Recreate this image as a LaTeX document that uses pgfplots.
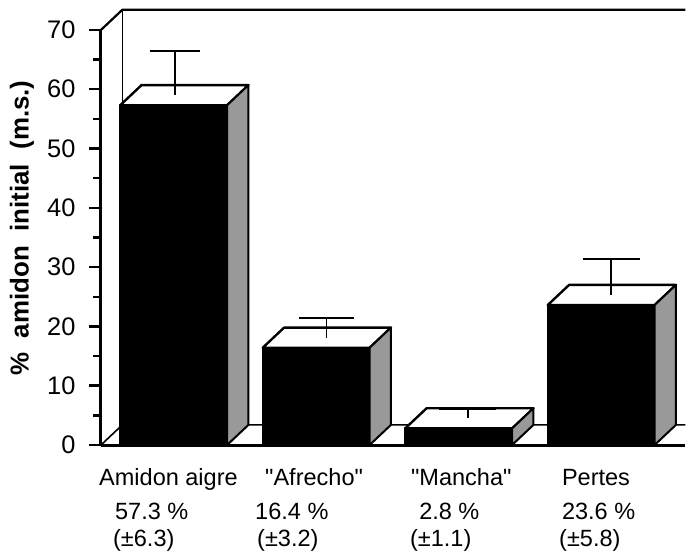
\documentclass[border=0pt]{standalone}
\usepackage{fontspec}
\setmainfont{Liberation Sans}[Ligatures=TeXOff]
\usepackage{pgfplots}
\pgfplotsset{compat=1.18}
\definecolor{sidegray}{gray}{0.6}
\newcommand\lbl{\fontsize{23.6}{27}\selectfont}
% 3D bar: #1 = category position, #2 = value
\newcommand\tdbar[2]{%
  \pgfmathsetmacro\L{#1-0.365}\pgfmathsetmacro\R{#1+0.385}%
  \pgfmathsetmacro\RR{#1+0.535}\pgfmathsetmacro\LL{#1-0.215}%
  \pgfmathsetmacro\T{#2+3.4}%
  \edef\tmp{%
    \noexpand\addplot[fill=black,draw=black,line width=2bp,line join=round] coordinates {(\L,0) (\R,0) (\R,#2) (\L,#2)} --cycle;
    \noexpand\addplot[fill=white,draw=black,line width=2.4bp,line join=round] coordinates {(\L,#2) (\R,#2) (\RR,\T) (\LL,\T)} --cycle;
    \noexpand\addplot[fill=sidegray,draw=black,line width=2bp,line join=round] coordinates {(\R,0) (\RR,3.4) (\RR,\T) (\R,#2)} --cycle;
  }\tmp}
\begin{document}
\begin{tikzpicture}
\begin{axis}[
  scale only axis, width=584.25bp, height=415.1bp,
  xmin=-0.5, xmax=3.6, ymin=0, ymax=70,
  axis x line*=bottom, axis y line*=left,
  axis line style={line width=3bp},
  clip=false,
  xtick=\empty,
  minor xtick={-0.5,0.5,1.5,2.5,3.5},
  ytick={0,10,...,70}, minor ytick={5,15,...,65},
  tick align=outside,
  major tick length=12bp, minor tick length=7.5bp,
  every tick/.style={line width=2.5bp, black},
  yticklabel style={font=\fontsize{25.5}{28}\selectfont, xshift=-10bp},
  /pgf/number format/assume math mode=true,
]
\coordinate (O) at (axis cs:-0.5,0);
% back wall and floor
\addplot[line width=1.6bp, black] coordinates {(-0.5,0) (-0.35,3.4) (3.6,3.4)};
\addplot[line width=1.6bp, black] coordinates {(-0.35,3.4) (-0.35,73.4)};
\addplot[line width=2.2bp, black] coordinates {(-0.5,70) (-0.35,73.4) (3.6,73.4)};
% bars
\tdbar{0}{57.3}
\tdbar{1}{16.4}
\tdbar{2}{2.8}
\tdbar{3}{23.6}
% error bars
\addplot[line width=1.8bp, black] coordinates {(0.019,59.0) (0.019,66.4)};
\addplot[line width=2.2bp, black] coordinates {(-0.156,66.4) (0.194,66.4)};
\addplot[line width=1.8bp, black] coordinates {(1.082,18.1) (1.082,21.4)};
\addplot[line width=2.2bp, black] coordinates {(0.892,21.4) (1.272,21.4)};
\addplot[line width=1.8bp, black] coordinates {(2.075,4.5) (2.075,6.1)};
\addplot[line width=2.2bp, black] coordinates {(1.875,6.1) (2.275,6.1)};
\addplot[line width=1.8bp, black] coordinates {(3.079,25.3) (3.079,31.4)};
\addplot[line width=2.2bp, black] coordinates {(2.879,31.4) (3.279,31.4)};
% labels
\node[anchor=base west, inner sep=0, font=\lbl] at (axis cs:-0.514,-6.91) {Amidon aigre};
\node[anchor=base west, inner sep=0, font=\lbl] at (axis cs:0.651,-6.91) {"Afrecho"};
\node[anchor=base west, inner sep=0, font=\lbl] at (axis cs:1.675,-6.91) {"Mancha"};
\node[anchor=base west, inner sep=0, font=\lbl] at (axis cs:2.734,-6.91) {Pertes};
\node[anchor=base west, inner sep=0, font=\lbl] at (axis cs:-0.402,-12.53) {57.3 \%};
\node[anchor=base west, inner sep=0, font=\lbl] at (axis cs:0.581,-12.53) {16.4 \%};
\node[anchor=base west, inner sep=0, font=\lbl] at (axis cs:1.732,-12.53) {2.8 \%};
\node[anchor=base west, inner sep=0, font=\lbl] at (axis cs:2.734,-12.53) {23.6 \%};
\node[anchor=base west, inner sep=0, font=\lbl] at (axis cs:-0.416,-17.15) {(±6.3)};
\node[anchor=base west, inner sep=0, font=\lbl] at (axis cs:0.595,-17.15) {(±3.2)};
\node[anchor=base west, inner sep=0, font=\lbl] at (axis cs:1.668,-17.15) {(±1.1)};
\node[anchor=base west, inner sep=0, font=\lbl] at (axis cs:2.714,-17.15) {(±5.8)};
\node[rotate=90, font=\bfseries\fontsize{26}{30}\selectfont] at (axis cs:-1.054,36.6) {\%\ \ amidon\ \ initial\ \ (m.s.)};
\end{axis}
\pgfresetboundingbox
\path[use as bounding box] ([shift={(-101bp,-112bp)}]O) rectangle ([shift={(585bp,445bp)}]O);
\end{tikzpicture}
\end{document}
